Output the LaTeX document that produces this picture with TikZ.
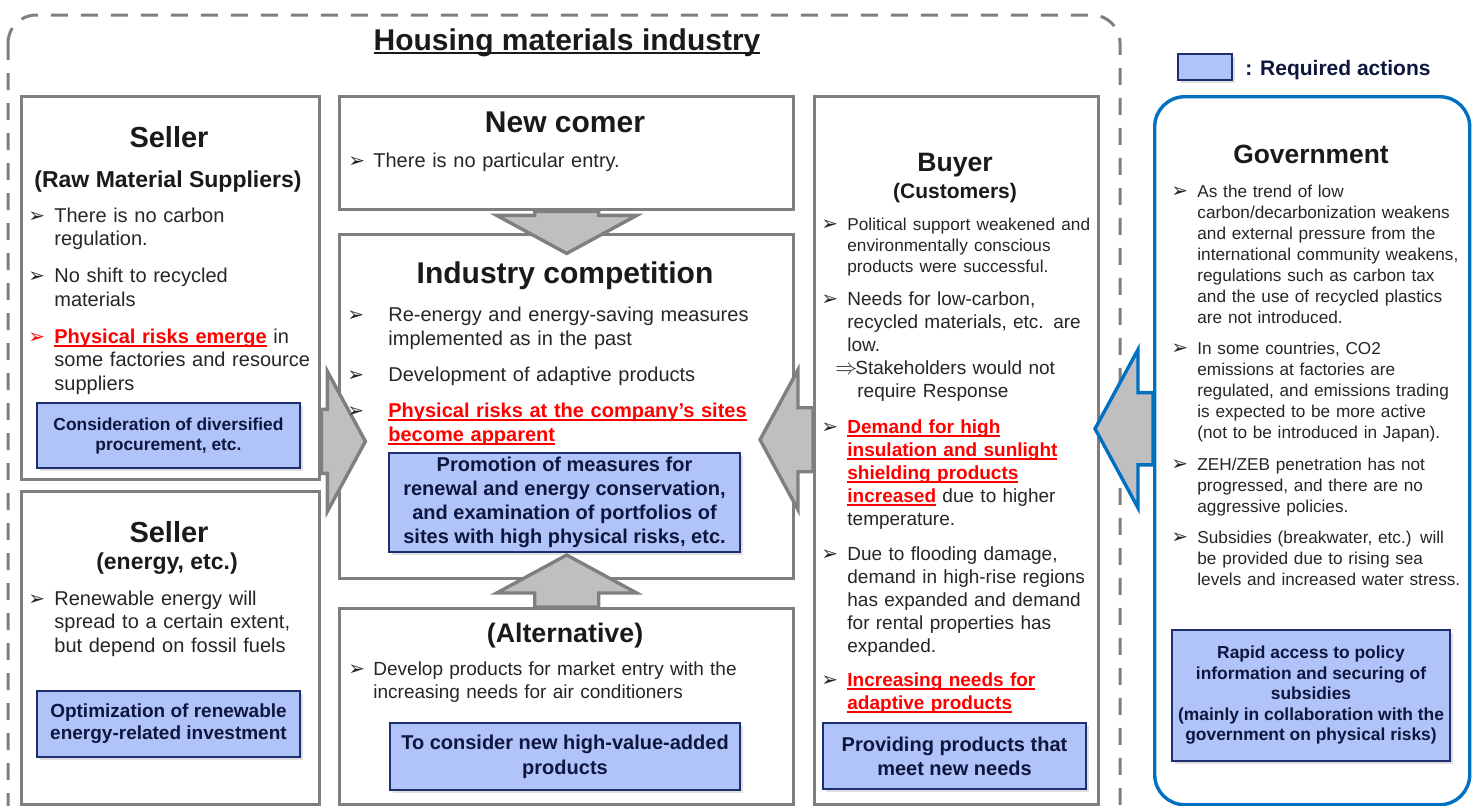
\documentclass[tikz,border=0pt]{standalone}
\usepackage{fontspec}
\setmainfont{Liberation Sans}
\newfontfamily\dejavu{DejaVu Sans}
\usetikzlibrary{positioning,calc,shadows}

\definecolor{boxgray}{RGB}{127,127,127}
\definecolor{arrowfill}{RGB}{191,191,191}
\definecolor{actfill}{RGB}{176,196,250}
\definecolor{actline}{RGB}{31,46,110}
\definecolor{acttxt}{RGB}{14,22,62}
\definecolor{txt}{RGB}{38,38,38}
\definecolor{ttltxt}{RGB}{26,26,26}
\definecolor{govblue}{RGB}{0,112,192}

\newlength{\bulind}
\setlength{\bulind}{12.5pt}
\newcommand{\nl}{\hfil\break}
\newcommand{\bulsym}{{\dejavu\fontsize{10}{10}\selectfont ➢}}
\newcommand{\bitem}[2][txt]{\hangindent=\bulind\hangafter=1\leavevmode\makebox[\bulind][l]{\textcolor{#1}{\bulsym}}#2\par}
\newcommand{\uln}[1]{\leavevmode\sbox0{#1}\rlap{\rule[-2pt]{\wd0}{0.8pt}}\usebox0}
\newcommand{\rul}[1]{{\color{red}\bfseries\uln{#1}}}
% block arrow: tail point, angle, total length (px)
\newcommand{\blockarrow}[4][]{%
  \draw[fat,shift={(#2)},rotate=#3,#1] (0,32) -- ({#4-38},32) -- ({#4-38},70) -- (#4,0)
    -- ({#4-38},-70) -- ({#4-38},-32) -- (0,-32) -- cycle;}

\begin{document}
\begin{tikzpicture}[x=0.5pt,y=-0.5pt,
  panel/.style={draw=boxgray,line width=1.7pt,fill=white,anchor=north west,inner sep=0pt},
  ttl/.style={anchor=base,inner sep=0pt,text=ttltxt,font=\bfseries\fontsize{#1}{#1}\selectfont},
  body/.style={anchor=base west,inner sep=0pt,text=txt,align=left,text width=#1},
  body/.default=230pt,
  act/.style={draw=actline,line width=1pt,fill=actfill,text=acttxt,align=center,inner sep=0pt,
    drop shadow={shadow xshift=1.5pt,shadow yshift=-1.5pt,opacity=0.25}},
  fat/.style={fill=arrowfill,draw=boxgray,line width=1.7pt}]
\useasboundingbox (0,0) rectangle (1475,805);

% industry frame
\draw[boxgray,line width=1.5pt,dash pattern=on 8.5pt off 6.5pt,rounded corners=14pt] (8,15) rectangle (1120,840);
\node[ttl=15] (title) at (567,50) {\uln{Housing materials industry}};

% legend
\node[act,minimum width=27pt,minimum height=13pt] (legb) at (1205,67) {};
\node[anchor=base west,inner sep=0pt,text=acttxt,font=\bfseries\fontsize{10.5}{12}\selectfont] (legt) at (1245,75) {: Required actions};

% boxes
\node[panel,minimum width=149pt,minimum height=191.5pt] (sellA) at (20,95) {};
\node[panel,minimum width=149pt,minimum height=156.5pt] (sellB) at (20,490) {};
\node[panel,minimum width=227pt,minimum height=56.5pt] (newc) at (338,95) {};
\node[panel,minimum width=227pt,minimum height=172pt] (indc) at (338,233) {};
\node[panel,minimum width=227pt,minimum height=98pt] (altv) at (338,607) {};
\node[panel,minimum width=142pt,minimum height=354pt] (buyer) at (813,95) {};
\node[panel,draw=govblue,rounded corners=15pt,minimum width=157.5pt,minimum height=354pt] (gov) at (1153,95) {};

% forces
\blockarrow{newc.south}{-90}{42}
\blockarrow{altv.north}{90}{52}
\blockarrow{$(sellA.south east)+(0,-40)$}{0}{44}
\blockarrow{$(buyer.west)+(0,-11)$}{180}{53}
\blockarrow[draw=govblue,scale=1.13]{$(gov.west)+(0,-22)$}{180}{51.3}

% titles
\node[ttl=14.5] (sellAt) at (169,147) {Seller};
\node[ttl=11.5] (sellAs) at (168,187) {(Raw Material Suppliers)};
\node[ttl=14.5] (sellBt) at (169,542) {Seller};
\node[ttl=11.5] (sellBs) at (167,569) {(energy, etc.)};
\node[ttl=15] (newct) at (565,132) {New comer};
\node[ttl=15] (indct) at (565,283) {Industry competition};
\node[ttl=13.4] (altvt) at (565,642) {(Alternative)};
\node[ttl=13.3] (buyert) at (955,171) {Buyer};
\node[ttl=10.5] (buyers) at (955,198) {(Customers)};
\node[ttl=13.2] (govt) at (1311,163) {Government};

% texts
\node[body,font=\fontsize{10}{11.75}\selectfont] (sellAb) at (28,222) {\setlength{\bulind}{13pt}%
\bitem{There is no carbon\nl regulation.}\vspace{6.75pt}
\bitem{No shift to recycled\nl materials}\vspace{6.75pt}
\bitem[red]{\rul{Physical risks emerge} in\nl some factories and resource\nl suppliers}};
\node[body,font=\fontsize{10}{11.75}\selectfont] (sellBb) at (28,605) {\setlength{\bulind}{13pt}%
\bitem{Renewable energy will\nl spread to a certain extent,\nl but depend on fossil fuels}};
\node[body,font=\fontsize{10}{12}\selectfont] (newcb) at (348,167) {\setlength{\bulind}{12.5pt}%
\bitem{There is no particular entry.}};
\node[body,font=\fontsize{10}{12}\selectfont] (indcb) at (347,321) {\setlength{\bulind}{20.5pt}%
\bitem{Re-energy and energy-saving measures\nl implemented as in the past}\vspace{6pt}
\bitem{Development of adaptive products}\vspace{6pt}
\bitem{\rul{Physical risks at the company's sites}\nl \rul{become apparent}}};
\node[body,font=\fontsize{9.5}{11.5}\selectfont] (altvb) at (348,675) {\setlength{\bulind}{12.5pt}%
\bitem{Develop products for market entry with the\nl increasing needs for air conditioners}};
\node[body,font=\fontsize{9.5}{11.5}\selectfont] (buyerb) at (821,230) {\setlength{\bulind}{13pt}%
{\fontsize{8.6}{10.5}\selectfont\bitem{Political support weakened and\nl environmentally conscious\nl products were successful.}}\vspace{5pt}
\bitem{Needs for low-carbon,\nl recycled materials, etc. are\nl low.}
{\hangindent=18pt\hangafter=1\leavevmode\hspace*{7pt}\makebox[10pt][l]{\fontsize{11}{11}\selectfont$\Rightarrow$}Stakeholders would not\nl require Response\par}\vspace{6.5pt}
\bitem{\rul{Demand for high}\nl \rul{insulation and sunlight}\nl \rul{shielding products}\nl \rul{increased} due to higher\nl temperature.}\vspace{6pt}
\bitem{Due to flooding damage,\nl demand in high-rise regions\nl has expanded and demand\nl for rental properties has\nl expanded.}\vspace{5.5pt}
\bitem{\rul{Increasing needs for}\nl \rul{adaptive products}}};
\node[body,font=\fontsize{8.6}{10.5}\selectfont] (govb) at (1171,197) {\setlength{\bulind}{13pt}%
\bitem{As the trend of low\nl carbon/decarbonization weakens\nl and external pressure from the\nl international community weakens,\nl regulations such as carbon tax\nl and the use of recycled plastics\nl are not introduced.}\vspace{5pt}
\bitem{In some countries, CO2\nl emissions at factories are\nl regulated, and emissions trading\nl is expected to be more active\nl (not to be introduced in Japan).}\vspace{5.5pt}
\bitem{ZEH/ZEB penetration has not\nl progressed, and there are no\nl aggressive policies.}\vspace{5pt}
\bitem{Subsidies (breakwater, etc.) will\nl be provided due to rising sea\nl levels and increased water stress.}};

% required actions
\node[act,font=\bfseries\fontsize{8.7}{10}\selectfont,minimum width=131.5pt,minimum height=32.5pt] (sellAa) at (168.5,435.5) {Consideration of diversified\\ procurement, etc.};
\node[act,font=\bfseries\fontsize{9.5}{11}\selectfont,minimum width=131.5pt,minimum height=33pt] (sellBa) at (168.5,724) {Optimization of renewable\\ energy-related investment};
\node[act,font=\bfseries\fontsize{10}{12}\selectfont,minimum width=175.5pt,minimum height=49.5pt] (indca) at (564.5,502.5) {Promotion of measures for\\ renewal and energy conservation,\\ and examination of portfolios of\\ sites with high physical risks, etc.};
\node[act,font=\bfseries\fontsize{10}{12.5}\selectfont,minimum width=175pt,minimum height=33.5pt] (altva) at (565,756.5) {To consider new high-value-added\\ products};
\node[act,font=\bfseries\fontsize{10}{12}\selectfont,minimum width=131.5pt,minimum height=33pt] (buyera) at (954.5,756) {Providing products that\\ meet new needs};
\node[act,font=\bfseries\fontsize{8.7}{10.25}\selectfont,minimum width=139pt,minimum height=65.5pt] (gova) at (1311,695.5) {Rapid access to policy\\ information and securing of\\ subsidies\\ (mainly in collaboration with the\\ government on physical risks)};
\end{tikzpicture}
\end{document}
